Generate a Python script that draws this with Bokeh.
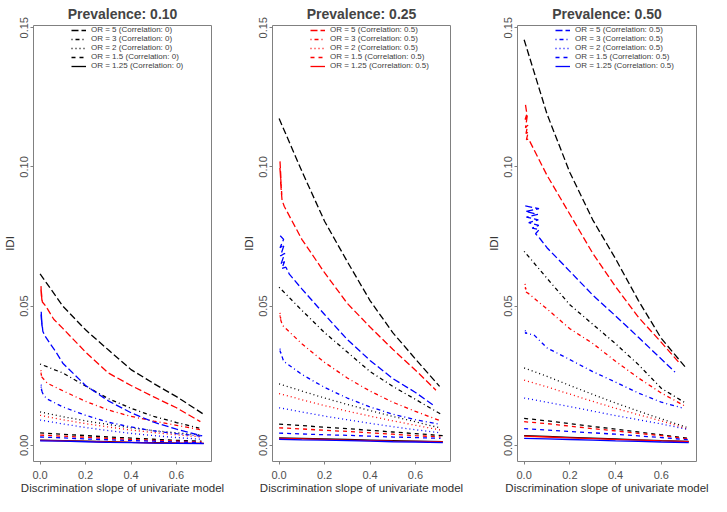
from bokeh.plotting import figure
from bokeh.layouts import row
from bokeh.models import Range1d, FixedTicker, NumeralTickFormatter, Legend, LegendItem
from bokeh.embed import file_html
from bokeh.resources import INLINE

# legend / line style order: OR = 5, 3, 2, 1.5, 1.25
or_labels = ["5", "3", "2", "1.5", "1.25"]
dashes = ["7 3", "1 3 4 3", "1 3", "4 4", "solid"]

# ---- Prevalence 0.10 ----
p10_black_x = [
    [0.0, 0.1, 0.2, 0.3, 0.4, 0.5, 0.6, 0.715],
    [0.0, 0.1, 0.2, 0.3, 0.4, 0.5, 0.6, 0.70],
    [0.0, 0.1, 0.2, 0.3, 0.4, 0.5, 0.6, 0.71],
    [0.0, 0.1, 0.2, 0.3, 0.4, 0.5, 0.6, 0.71],
    [0.0, 0.1, 0.2, 0.3, 0.4, 0.5, 0.6, 0.72],
]
p10_black_y = [
    [0.0616, 0.050, 0.0415, 0.0343, 0.0272, 0.0222, 0.0175, 0.0114],
    [0.0292, 0.026, 0.0213, 0.0168, 0.0133, 0.0104, 0.0082, 0.0062],
    [0.0120, 0.0103, 0.0088, 0.0075, 0.0063, 0.0053, 0.0045, 0.0037],
    [0.0045, 0.0040, 0.0035, 0.0030, 0.0026, 0.0022, 0.0018, 0.0015],
    [0.0019, 0.0017, 0.0015, 0.0013, 0.0011, 0.0010, 0.0008, 0.0007],
]
p10_red_x = [
    [0.004, 0.006, 0.003, 0.008, 0.005, 0.010, 0.025, 0.06, 0.1, 0.2, 0.3, 0.4, 0.5, 0.6, 0.705],
    [0.004, 0.006, 0.003, 0.008, 0.032, 0.1, 0.2, 0.3, 0.4, 0.5, 0.6, 0.706],
    [0.0, 0.1, 0.2, 0.3, 0.4, 0.5, 0.6, 0.71],
    [0.0, 0.1, 0.2, 0.3, 0.4, 0.5, 0.6, 0.71],
    [0.0, 0.1, 0.2, 0.3, 0.4, 0.5, 0.6, 0.72],
]
p10_red_y = [
    [0.0572, 0.0535, 0.0565, 0.052, 0.0555, 0.0515, 0.050, 0.0453, 0.042, 0.0335, 0.026, 0.0215, 0.0174, 0.0135, 0.0085],
    [0.027, 0.025, 0.0265, 0.0245, 0.0223, 0.0196, 0.0158, 0.0127, 0.0104, 0.0087, 0.0072, 0.0056],
    [0.0108, 0.0092, 0.0078, 0.0066, 0.0055, 0.0046, 0.0038, 0.0030],
    [0.0037, 0.0033, 0.0029, 0.0025, 0.0021, 0.0018, 0.0015, 0.0012],
    [0.0018, 0.0016, 0.0014, 0.0012, 0.0011, 0.0009, 0.0008, 0.0007],
]
p10_blue_x = [
    [0.005, 0.008, 0.004, 0.010, 0.006, 0.012, 0.02, 0.04, 0.07, 0.1, 0.2, 0.3, 0.4, 0.5, 0.6, 0.713],
    [0.005, 0.007, 0.004, 0.009, 0.015, 0.032, 0.1, 0.2, 0.3, 0.4, 0.5, 0.6, 0.713],
    [0.0, 0.1, 0.2, 0.3, 0.4, 0.5, 0.6, 0.71],
    [0.0, 0.1, 0.2, 0.3, 0.4, 0.5, 0.6, 0.71],
    [0.0, 0.1, 0.2, 0.3, 0.4, 0.5, 0.6, 0.72],
]
p10_blue_y = [
    [0.048, 0.043, 0.047, 0.042, 0.046, 0.041, 0.0395, 0.037, 0.0335, 0.0295, 0.0215, 0.016, 0.0117, 0.0083, 0.0058, 0.0034],
    [0.0218, 0.0196, 0.0212, 0.0192, 0.018, 0.0166, 0.0138, 0.0108, 0.0083, 0.0066, 0.0052, 0.0042, 0.0033],
    [0.0091, 0.0077, 0.0064, 0.0053, 0.0043, 0.0035, 0.0028, 0.0022],
    [0.0030, 0.0027, 0.0023, 0.0020, 0.0017, 0.0015, 0.0012, 0.0010],
    [0.0016, 0.0015, 0.0013, 0.0011, 0.0010, 0.0008, 0.0007, 0.0006],
]

# ---- Prevalence 0.25 ----
p25_black_x = [
    [0.0, 0.1, 0.2, 0.3, 0.4, 0.5, 0.6, 0.706],
    [0.0, 0.1, 0.2, 0.3, 0.4, 0.5, 0.6, 0.71],
    [0.0, 0.1, 0.2, 0.3, 0.4, 0.5, 0.6, 0.71],
    [0.0, 0.1, 0.2, 0.3, 0.4, 0.5, 0.6, 0.72],
    [0.0, 0.1, 0.2, 0.3, 0.4, 0.5, 0.6, 0.72],
]
p25_black_y = [
    [0.1174, 0.0985, 0.0805, 0.066, 0.052, 0.0405, 0.031, 0.0212],
    [0.0568, 0.0485, 0.0405, 0.0335, 0.0265, 0.0212, 0.0165, 0.0113],
    [0.0221, 0.0195, 0.0170, 0.0147, 0.0125, 0.0104, 0.0085, 0.0062],
    [0.0076, 0.0071, 0.0065, 0.0060, 0.0054, 0.0048, 0.0042, 0.0035],
    [0.0027, 0.0025, 0.0023, 0.0021, 0.0019, 0.0017, 0.0015, 0.0013],
]
p25_red_x = [
    [0.004, 0.008, 0.003, 0.010, 0.005, 0.012, 0.006, 0.013, 0.023, 0.1, 0.2, 0.3, 0.4, 0.5, 0.6, 0.69],
    [0.004, 0.007, 0.003, 0.008, 0.015, 0.1, 0.2, 0.3, 0.4, 0.5, 0.6, 0.71],
    [0.0, 0.1, 0.2, 0.3, 0.4, 0.5, 0.6, 0.71],
    [0.0, 0.1, 0.2, 0.3, 0.4, 0.5, 0.6, 0.71],
    [0.0, 0.1, 0.2, 0.3, 0.4, 0.5, 0.6, 0.72],
]
p25_red_y = [
    [0.102, 0.096, 0.100, 0.093, 0.098, 0.090, 0.095, 0.088, 0.0858, 0.074, 0.062, 0.051, 0.0425, 0.0345, 0.027, 0.0198],
    [0.0476, 0.0455, 0.047, 0.0448, 0.0431, 0.0365, 0.0298, 0.0242, 0.0195, 0.0155, 0.0122, 0.0088],
    [0.0186, 0.0164, 0.0143, 0.0123, 0.0105, 0.0088, 0.0072, 0.0055],
    [0.0063, 0.0059, 0.0054, 0.0050, 0.0045, 0.0040, 0.0035, 0.0030],
    [0.0025, 0.0023, 0.0021, 0.0019, 0.0017, 0.0015, 0.0014, 0.0012],
]
p25_blue_x = [
    [0.005, 0.020, 0.004, 0.022, 0.006, 0.025, 0.008, 0.024, 0.012, 0.030, 0.045, 0.1, 0.2, 0.3, 0.4, 0.5, 0.6, 0.686],
    [0.004, 0.008, 0.003, 0.010, 0.020, 0.1, 0.2, 0.3, 0.4, 0.5, 0.6, 0.71],
    [0.0, 0.1, 0.2, 0.3, 0.4, 0.5, 0.6, 0.71],
    [0.0, 0.1, 0.2, 0.3, 0.4, 0.5, 0.6, 0.71],
    [0.0, 0.1, 0.2, 0.3, 0.4, 0.5, 0.6, 0.72],
]
p25_blue_y = [
    [0.0753, 0.074, 0.071, 0.072, 0.068, 0.069, 0.065, 0.066, 0.0635, 0.064, 0.0615, 0.0562, 0.047, 0.038, 0.0305, 0.024, 0.019, 0.014],
    [0.0347, 0.033, 0.0342, 0.0326, 0.0302, 0.0255, 0.0208, 0.017, 0.0138, 0.0112, 0.0092, 0.0075],
    [0.0135, 0.0120, 0.0105, 0.0092, 0.0079, 0.0067, 0.0056, 0.0045],
    [0.0044, 0.0041, 0.0038, 0.0036, 0.0033, 0.0030, 0.0028, 0.0025],
    [0.0022, 0.0020, 0.0019, 0.0017, 0.0015, 0.0013, 0.0012, 0.0010],
]

# ---- Prevalence 0.50 ----
p50_black_x = [
    [0.0, 0.1, 0.2, 0.3, 0.4, 0.5, 0.6, 0.704],
    [0.0, 0.1, 0.2, 0.3, 0.4, 0.5, 0.6, 0.704],
    [0.0, 0.1, 0.2, 0.3, 0.4, 0.5, 0.6, 0.71],
    [0.0, 0.1, 0.2, 0.3, 0.4, 0.5, 0.6, 0.72],
    [0.0, 0.1, 0.2, 0.3, 0.4, 0.5, 0.6, 0.72],
]
p50_black_y = [
    [0.1457, 0.119, 0.098, 0.081, 0.067, 0.052, 0.0384, 0.0282],
    [0.0697, 0.060, 0.0505, 0.0435, 0.0365, 0.029, 0.0205, 0.0153],
    [0.0278, 0.0248, 0.0215, 0.0183, 0.0152, 0.0123, 0.0095, 0.0065],
    [0.0097, 0.0088, 0.0078, 0.0068, 0.0058, 0.0048, 0.0038, 0.0025],
    [0.0035, 0.0032, 0.0029, 0.0026, 0.0023, 0.0020, 0.0017, 0.0014],
]
p50_red_x = [
    [0.006, 0.012, 0.004, 0.014, 0.006, 0.016, 0.008, 0.018, 0.010, 0.020, 0.032, 0.1, 0.2, 0.3, 0.4, 0.5, 0.6, 0.675],
    [0.004, 0.008, 0.003, 0.010, 0.018, 0.1, 0.2, 0.3, 0.4, 0.5, 0.6, 0.704],
    [0.0, 0.1, 0.2, 0.3, 0.4, 0.5, 0.6, 0.71],
    [0.0, 0.1, 0.2, 0.3, 0.4, 0.5, 0.6, 0.72],
    [0.0, 0.1, 0.2, 0.3, 0.4, 0.5, 0.6, 0.72],
]
p50_red_y = [
    [0.1223, 0.119, 0.117, 0.1185, 0.114, 0.115, 0.112, 0.1125, 0.1098, 0.110, 0.108, 0.097, 0.083, 0.069, 0.057, 0.046, 0.037, 0.030],
    [0.058, 0.056, 0.0572, 0.055, 0.0546, 0.049, 0.0419, 0.0366, 0.0302, 0.0242, 0.0188, 0.0141],
    [0.0234, 0.0210, 0.0184, 0.0158, 0.0133, 0.0110, 0.0088, 0.0060],
    [0.0085, 0.0078, 0.0069, 0.0060, 0.0052, 0.0043, 0.0035, 0.0023],
    [0.0033, 0.0030, 0.0027, 0.0024, 0.0021, 0.0019, 0.0016, 0.0013],
]
p50_blue_x = [
    [0.005, 0.065, 0.006, 0.060, 0.010, 0.062, 0.020, 0.064, 0.035, 0.066, 0.050, 0.069, 0.1, 0.2, 0.3, 0.4, 0.5, 0.6, 0.66],
    [0.003, 0.015, 0.004, 0.020, 0.025, 0.045, 0.1, 0.2, 0.3, 0.4, 0.5, 0.6, 0.689],
    [0.0, 0.1, 0.2, 0.3, 0.4, 0.5, 0.6, 0.71],
    [0.0, 0.1, 0.2, 0.3, 0.4, 0.5, 0.6, 0.72],
    [0.0, 0.1, 0.2, 0.3, 0.4, 0.5, 0.6, 0.72],
]
p50_blue_y = [
    [0.086, 0.085, 0.084, 0.083, 0.082, 0.081, 0.080, 0.079, 0.078, 0.0775, 0.076, 0.0743, 0.071, 0.0625, 0.054, 0.0465, 0.0388, 0.031, 0.0263],
    [0.0412, 0.0408, 0.0403, 0.0402, 0.040, 0.0395, 0.035, 0.0308, 0.0265, 0.0227, 0.0188, 0.0155, 0.0135],
    [0.0170, 0.0155, 0.0139, 0.0123, 0.0107, 0.0092, 0.0077, 0.0058],
    [0.0060, 0.0055, 0.0050, 0.0045, 0.0040, 0.0034, 0.0028, 0.0020],
    [0.0025, 0.0023, 0.0021, 0.0019, 0.0016, 0.0014, 0.0012, 0.0010],
]

FONT = "Liberation Sans"


def idi_panel(title, curves, legend_color, corr, width, left, right):
    p = figure(width=width, height=496, title=title,
               x_range=Range1d(-0.029, 0.754), y_range=Range1d(-0.0058, 0.1508),
               min_border_left=left, min_border_right=right,
               min_border_top=0, min_border_bottom=0,
               x_axis_label="Discrimination slope of univariate model", y_axis_label="IDI",
               toolbar_location=None, tools="", output_backend="svg")
    p.title.align = "center"
    p.title.text_font = FONT
    p.title.text_font_size = "14px"
    p.title.text_font_style = "bold"
    p.title.standoff = 7
    p.xgrid.visible = False
    p.ygrid.visible = False
    p.outline_line_color = "#808080"
    p.background_fill_color = "white"

    p.xaxis.ticker = FixedTicker(ticks=[0, 0.2, 0.4, 0.6])
    p.xaxis.formatter = NumeralTickFormatter(format="0.0")
    p.yaxis.ticker = FixedTicker(ticks=[0, 0.05, 0.10, 0.15])
    p.yaxis.formatter = NumeralTickFormatter(format="0.00")
    p.yaxis.major_label_orientation = "vertical"
    for ax in p.xaxis + p.yaxis:
        ax.axis_line_color = None
        ax.major_tick_line_color = "#808080"
        ax.major_tick_out = 3
        ax.major_tick_in = 0
        ax.minor_tick_line_color = None
        ax.major_label_text_font = FONT
        ax.major_label_text_font_size = "11px"
        ax.major_label_text_line_height = 1.0
        ax.major_label_text_color = "#505050"
        ax.major_label_standoff = 2
        ax.axis_label_text_font = FONT
        ax.axis_label_text_font_size = "11.5px"
        ax.axis_label_text_line_height = 1.0
        ax.axis_label_text_font_style = "normal"
        ax.axis_label_text_color = "#303030"
        ax.axis_label_standoff = 2
    p.xaxis.major_label_standoff = 6
    p.xaxis.axis_label_standoff = 0

    items = []
    for color, xs, ys in curves:
        for k in range(5):
            r = p.line(xs[k], ys[k], line_color=color, line_width=1.3, line_dash=dashes[k])
            if color == legend_color:
                items.append(LegendItem(label=f"OR = {or_labels[k]} (Correlation: {corr})",
                                        renderers=[r], index=0))

    legend = Legend(items=items, location=(38, 391))
    legend.label_text_font = FONT
    legend.label_text_font_size = "8px"
    legend.label_text_color = "#404040"
    legend.label_height = 8
    legend.glyph_height = 8
    legend.glyph_width = 15
    legend.label_standoff = 5
    legend.spacing = 0
    legend.padding = 0
    legend.margin = 0
    legend.border_line_color = None
    legend.background_fill_alpha = 0
    p.add_layout(legend)
    return p


f1 = idi_panel("Prevalence: 0.10",
               [("black", p10_black_x, p10_black_y), ("red", p10_red_x, p10_red_y), ("blue", p10_blue_x, p10_blue_y)],
               "black", "0", 239, 32, 28)
f2 = idi_panel("Prevalence: 0.25",
               [("black", p25_black_x, p25_black_y), ("red", p25_red_x, p25_red_y), ("blue", p25_blue_x, p25_blue_y)],
               "red", "0.5", 239, 32, 28)
f3 = idi_panel("Prevalence: 0.50",
               [("black", p50_black_x, p50_black_y), ("red", p50_red_x, p50_red_y), ("blue", p50_blue_x, p50_blue_y)],
               "blue", "0.5", 233, 39, 15)

layout = row(f1, f2, f3)
open("out.html", "w").write(file_html(layout, INLINE))
